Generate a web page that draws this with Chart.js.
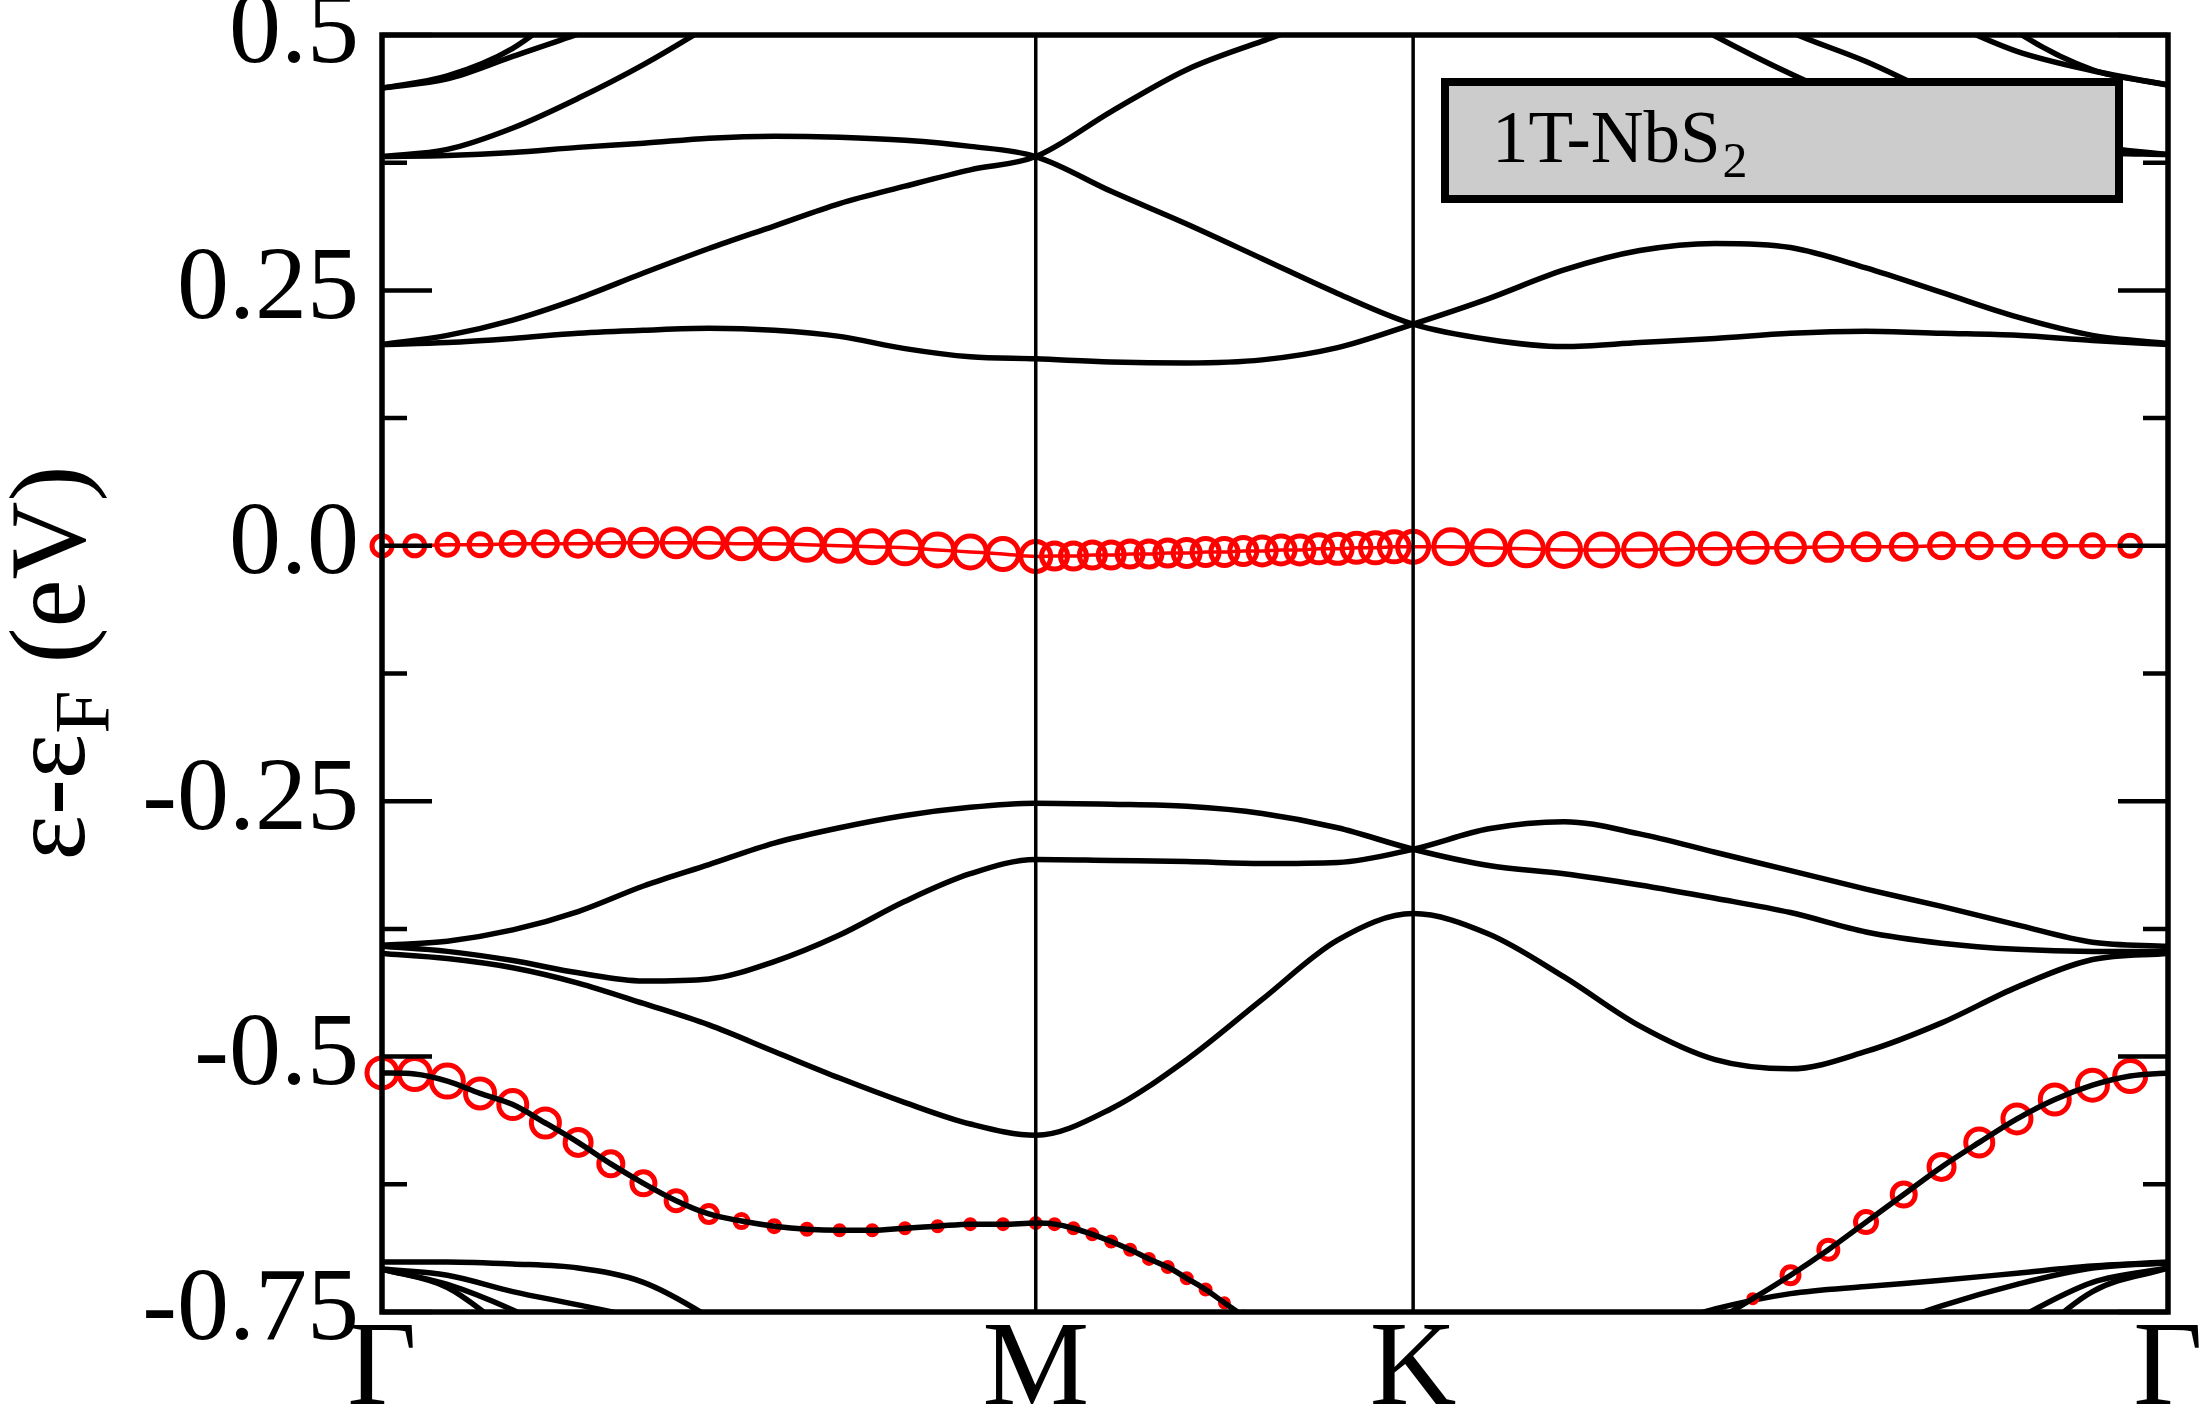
<!DOCTYPE html>
<html>
<head>
<meta charset="utf-8">
<title>1T-NbS2 band structure</title>
<script src="https://cdn.jsdelivr.net/npm/chart.js@4.4.1/dist/chart.umd.min.js"></script>
<style>
  body { margin: 0; background: #fff; }
  canvas { display: block; }
</style>
</head>
<body>
<canvas id="chart" width="2200" height="1408"></canvas>
<script>
// k-path Γ - M - K - Γ (high symmetry points and their labels)
const kNodes = [0, 0.5774, 0.9107, 1.5774];
const kLabels = ['Γ', 'M', 'K', 'Γ'];

// y axis tick labels (eV)
const yTickValues = [0.5, 0.25, 0, -0.25, -0.5, -0.75];
const yTickText = ['0.5', '0.25', '0.0', '-0.25', '-0.5', '-0.75'];

// coarse k grid used for the plain black bands
const kBand = [0, 0.0577, 0.1155, 0.1732, 0.2309, 0.2887, 0.3464, 0.4041, 0.4619, 0.5196, 0.5774,
    0.6440, 0.7107, 0.7774, 0.8440, 0.9107,
    0.9774, 1.0440, 1.1107, 1.1774, 1.2440, 1.3107, 1.3774, 1.4440, 1.5107, 1.5774];

// full k grid (20 steps per segment) used for the projected bands
const kFine = [0, 0.0289, 0.0577, 0.0866, 0.1155, 0.1443, 0.1732, 0.2021, 0.2309, 0.2598, 0.2887,
    0.3175, 0.3464, 0.3753, 0.4041, 0.4330, 0.4619, 0.4907, 0.5196, 0.5485, 0.5774,
    0.5940, 0.6107, 0.6274, 0.6440, 0.6607, 0.6774, 0.6940, 0.7107, 0.7274, 0.7440,
    0.7607, 0.7774, 0.7940, 0.8107, 0.8274, 0.8440, 0.8607, 0.8774, 0.8940, 0.9107,
    0.9440, 0.9774, 1.0107, 1.0440, 1.0774, 1.1107, 1.1440, 1.1774, 1.2107, 1.2440,
    1.2774, 1.3107, 1.3440, 1.3774, 1.4107, 1.4440, 1.4774, 1.5107, 1.5440, 1.5774];

// black bands on kBand (eV)
const bandA = [0.197, 0.199, 0.203, 0.208, 0.211, 0.213, 0.211, 0.205, 0.193, 0.185, 0.183,
    0.180, 0.179, 0.182, 0.194, 0.217,
    0.242, 0.270, 0.289, 0.296, 0.292, 0.272, 0.248, 0.224, 0.206, 0.198];
const bandB = [0.197, 0.206, 0.221, 0.242, 0.267, 0.291, 0.313, 0.335, 0.352, 0.368, 0.381,
    0.425, 0.466, 0.494, 0.520, 0.540,
    null, null, null, null, null, null, null, null, null, null];
const bandC = [0.381, 0.382, 0.385, 0.390, 0.394, 0.399, 0.401, 0.400, 0.397, 0.391, 0.381,
    0.347, 0.315, 0.281, 0.247, 0.217,
    0.202, 0.195, 0.199, 0.203, 0.208, 0.210, 0.208, 0.206, 0.201, 0.197];
const bandD1 = [0.381, 0.388, 0.409, 0.438, 0.471, 0.509, 0.550, null, null, null, null,
    null, null, null, null, null,
    null, null, null, null, null, null, null, null, null, null];
const bandD2 = [0.448, 0.460, 0.487, 0.535, null, null, null, null, null, null, null,
    null, null, null, null, null,
    null, null, null, null, null, null, null, null, null, null];
const bandD3 = [0.448, 0.457, 0.479, 0.501, 0.525, null, null, null, null, null, null,
    null, null, null, null, null,
    null, null, null, null, null, null, null, null, null, null];
const bandT1 = [null, null, null, null, null, null, null, null, null, null, null,
    null, null, null, null, null,
    null, null, 0.540, 0.499, 0.462, 0.430, 0.405, 0.392, 0.385, 0.383];
const bandT2 = [null, null, null, null, null, null, null, null, null, null, null,
    null, null, null, null, null,
    null, null, null, 0.540, 0.503, 0.474, 0.440, 0.412, 0.392, 0.383];
const bandT3 = [null, null, null, null, null, null, null, null, null, null, null,
    null, null, null, null, null,
    null, null, null, null, null, null, 0.515, 0.484, 0.465, 0.451];
const bandT4 = [null, null, null, null, null, null, null, null, null, null, null,
    null, null, null, null, null,
    null, null, null, null, null, null, 0.560, 0.503, 0.466, 0.451];
const bandE = [-0.391, -0.387, -0.376, -0.358, -0.333, -0.312, -0.291, -0.276, -0.264, -0.256, -0.252,
    -0.253, -0.255, -0.262, -0.276, -0.297,
    -0.313, -0.321, -0.332, -0.345, -0.359, -0.378, -0.389, -0.395, -0.397, -0.397];
const bandF = [-0.392, -0.397, -0.406, -0.418, -0.426, -0.424, -0.407, -0.381, -0.348, -0.321, -0.307,
    -0.308, -0.309, -0.311, -0.310, -0.297,
    -0.277, -0.270, -0.282, -0.300, -0.318, -0.336, -0.353, -0.371, -0.388, -0.392];
const bandG = [-0.399, -0.404, -0.413, -0.428, -0.448, -0.469, -0.495, -0.521, -0.545, -0.566, -0.577,
    -0.551, -0.503, -0.444, -0.386, -0.360,
    -0.380, -0.422, -0.470, -0.503, -0.512, -0.495, -0.467, -0.432, -0.405, -0.399];
const bandL1 = [-0.701, -0.701, -0.703, -0.707, -0.721, -0.755, -0.800, null, null, null, null,
    null, null, null, null, null,
    null, null, null, null, null, null, null, null, null, null];
const bandL2 = [-0.708, -0.714, -0.730, -0.743, -0.757, -0.775, null, null, null, null, null,
    null, null, null, null, null,
    null, null, null, null, null, null, null, null, null, null];
const bandL3 = [-0.708, -0.723, -0.748, -0.780, null, null, null, null, null, null, null,
    null, null, null, null, null,
    null, null, null, null, null, null, null, null, null, null];
const bandL4 = [-0.708, -0.726, -0.772, null, null, null, null, null, null, null, null,
    null, null, null, null, null,
    null, null, null, null, null, null, null, null, null, null];
const bandR1 = [null, null, null, null, null, null, null, null, null, null, null,
    null, null, null, null, null,
    null, null, -0.770, -0.747, -0.732, -0.725, -0.719, -0.712, -0.705, -0.701];
const bandR2 = [null, null, null, null, null, null, null, null, null, null, null,
    null, null, null, null, null,
    null, null, null, null, null, -0.770, -0.744, -0.723, -0.707, -0.702];
const bandR3 = [null, null, null, null, null, null, null, null, null, null, null,
    null, null, null, null, null,
    null, null, null, null, null, null, -0.800, -0.757, -0.721, -0.707];
const bandR4 = [null, null, null, null, null, null, null, null, null, null, null,
    null, null, null, null, null,
    null, null, null, null, null, null, null, -0.790, -0.730, -0.707];

// band crossing the Fermi level (red) on kFine, with projection circle radii
const fermiBand = [0.000, 0.000, 0.001, 0.001, 0.002, 0.002, 0.002, 0.003, 0.003, 0.003, 0.003,
    0.002, 0.002, 0.001, 0.000, -0.001, -0.002, -0.004, -0.006, -0.008, -0.0105,
    -0.010, -0.010, -0.009, -0.009, -0.008, -0.008, -0.007, -0.007, -0.006, -0.006,
    -0.005, -0.005, -0.004, -0.004, -0.003, -0.003, -0.002, -0.002, -0.001, -0.001,
    -0.001, -0.002, -0.003, -0.004, -0.004, -0.004, -0.003, -0.003, -0.002, -0.002,
    -0.001, -0.001, -0.001, 0.000, 0.000, 0.000, 0.000, 0.000, 0.000, 0.000];
const fermiWeight = [10, 10, 10.5, 11, 11.5, 12, 12.5, 13, 13.5, 14, 14.5,
    15, 15, 15.5, 15.5, 16, 16, 16, 16, 15.5, 15,
    13, 13, 13, 13, 13, 13, 13, 13.5, 13.5, 13.5,
    13.5, 14, 14, 14, 14, 14.5, 14.5, 15, 15, 15.5,
    17, 17, 17, 16.5, 16, 16, 15.5, 15, 14.5, 14,
    13.5, 13, 12.5, 12, 12, 11.5, 11, 11, 10.5, 0];

// lower band with red projection circles on kFine
const bandH = [-0.516, -0.517, -0.524, -0.536, -0.547, -0.565, -0.584, -0.605, -0.624, -0.641, -0.654,
    -0.661, -0.666, -0.669, -0.670, -0.670, -0.668, -0.666, -0.664, -0.664, -0.663,
    -0.664, -0.668, -0.674, -0.681, -0.689, -0.698, -0.706, -0.717, -0.728, -0.741,
    -0.754, -0.768, -0.782, -0.796, -0.810, -0.823, -0.835, -0.845, -0.852, -0.855,
    -0.855, -0.852, -0.845, -0.835, -0.820, -0.800, -0.780, -0.759, -0.737, -0.714,
    -0.689, -0.662, -0.635, -0.608, -0.584, -0.561, -0.542, -0.528, -0.519, -0.516];
const bandHWeight = [15, 15.5, 16, 14.5, 14, 14, 13, 12, 11.5, 10, 8.5,
    6.5, 5.5, 5, 4.5, 4.5, 4.5, 4.5, 4.5, 4.5, 4.5,
    4.5, 4.5, 4.5, 4.5, 4.5, 4.5, 4.5, 4.5, 4.5, 4,
    4, 4, 4, 4, 4, 4, 4, 4, 4, 4,
    4, 4, 4, 4, 4, 4, 4, 4, 4, 8.5,
    9.5, 10.5, 11.5, 12.5, 13.5, 14, 14.5, 15, 15.5, 0];

let chart;

function points(ks, ys) {
    return ks.map((k, i) => ({ x: k, y: ys[i] }));
}

function blackBand(ys) {
    return {
        data: points(kBand, ys),
        borderColor: '#000',
        borderWidth: 5.5,
        pointRadius: 0,
        cubicInterpolationMode: 'monotone',
        spanGaps: false
    };
}

const framePlugin = {
    id: 'frame',
    afterDatasetsDraw(c) {
        const ctx = c.ctx;
        const a = c.chartArea;
        const x = c.scales.x;
        const y = c.scales.y;
        ctx.save();
        ctx.strokeStyle = '#000';
        // vertical lines at M and K
        ctx.lineWidth = 3.5;
        kNodes.slice(1, -1).forEach(k => {
            const px = x.getPixelForValue(k);
            ctx.beginPath();
            ctx.moveTo(px, a.top);
            ctx.lineTo(px, a.bottom);
            ctx.stroke();
        });
        // inward ticks on both sides
        ctx.lineWidth = 4.5;
        y.ticks.forEach(t => {
            const py = y.getPixelForValue(t.value);
            const len = t.label !== '' ? 50 : 25;
            ctx.beginPath();
            ctx.moveTo(a.left, py);
            ctx.lineTo(a.left + len, py);
            ctx.moveTo(a.right - len, py);
            ctx.lineTo(a.right, py);
            ctx.stroke();
        });
        ctx.lineWidth = 5.5;
        ctx.strokeRect(a.left, a.top, a.right - a.left, a.bottom - a.top);
        ctx.restore();
    },
    afterDraw(c) {
        const ctx = c.ctx;
        ctx.save();
        // label box
        ctx.fillStyle = '#cccccc';
        ctx.fillRect(1445, 82, 674, 117);
        ctx.lineWidth = 8;
        ctx.strokeStyle = '#000';
        ctx.strokeRect(1445, 82, 674, 117);
        ctx.fillStyle = '#000';
        ctx.textBaseline = 'alphabetic';
        ctx.textAlign = 'left';
        ctx.font = "73px 'Liberation Serif'";
        ctx.fillText('1T-NbS', 1492, 162);
        const w = ctx.measureText('1T-NbS').width;
        ctx.font = "50px 'Liberation Serif'";
        ctx.fillText('2', 1492 + w + 2, 177);

        // y axis title with subscript
        ctx.translate(84, 663);
        ctx.rotate(-Math.PI / 2);
        ctx.font = "108px 'Liberation Serif'";
        const w1 = ctx.measureText('ε-ε').width;
        const w3 = ctx.measureText(' (eV)').width;
        ctx.font = "78px 'Liberation Serif'";
        const w2 = ctx.measureText('F').width;
        let sx = -(w1 + w2 + w3) / 2;
        ctx.font = "108px 'Liberation Serif'";
        ctx.fillText('ε-ε', sx, 0);
        sx += w1;
        ctx.font = "78px 'Liberation Serif'";
        ctx.fillText('F', sx, 24);
        sx += w2;
        ctx.font = "108px 'Liberation Serif'";
        ctx.fillText(' (eV)', sx, 0);
        ctx.restore();
    }
};

function chartInit() {
    Chart.defaults.font.family = "'Liberation Serif', 'Times New Roman', serif";
    Chart.defaults.color = '#000';
    const ctx = document.getElementById('chart').getContext('2d');
    const blackBands = [bandA, bandB, bandC, bandD1, bandD2, bandD3, bandT1, bandT2, bandT3, bandT4,
        bandE, bandF, bandG, bandL1, bandL2, bandL3, bandL4, bandR1, bandR2, bandR3, bandR4];
    const datasets = [
        {
            data: points(kFine, bandH),
            borderColor: '#000',
            borderWidth: 5.5,
            pointRadius: 0,
            cubicInterpolationMode: 'monotone'
        },
        {
            data: points(kFine, bandH),
            showLine: false,
            pointRadius: bandHWeight,
            pointBorderColor: '#ff0000',
            pointBackgroundColor: 'rgba(0,0,0,0)',
            pointBorderWidth: 5,
            clip: { left: 30, right: 30, top: 0, bottom: 0 }
        },
        {
            data: points(kFine, fermiBand),
            borderColor: '#ff0000',
            borderWidth: 3.5,
            pointRadius: fermiWeight,
            pointBorderColor: '#ff0000',
            pointBackgroundColor: 'rgba(0,0,0,0)',
            pointBorderWidth: 5,
            cubicInterpolationMode: 'monotone',
            clip: { left: 30, right: 30, top: 0, bottom: 0 }
        }
    ].concat(blackBands.map(blackBand));

    chart = new Chart(ctx, {
        type: 'line',
        data: { datasets: datasets },
        options: {
            responsive: false,
            animation: false,
            devicePixelRatio: 1,
            layout: { padding: { left: 0, top: 35, right: 32, bottom: 0 } },
            plugins: { legend: { display: false }, tooltip: { enabled: false } },
            scales: {
                x: {
                    type: 'linear',
                    min: 0,
                    max: 1.5774,
                    grid: { display: false, drawTicks: false },
                    border: { display: false },
                    afterBuildTicks: (s) => { s.ticks = kNodes.map(v => ({ value: v })); },
                    afterFit: (s) => { s.height = 96; s.paddingLeft = 0; s.paddingRight = 0; },
                    ticks: {
                        autoSkip: false,
                        maxRotation: 0,
                        padding: -12,
                        font: { size: 120 },
                        callback: (v, i) => kLabels[i]
                    }
                },
                y: {
                    type: 'linear',
                    min: -0.75,
                    max: 0.5,
                    grid: { display: false, drawTicks: false },
                    border: { display: false },
                    afterFit: (s) => { s.width = 382; s.paddingTop = 0; s.paddingBottom = 0; },
                    ticks: {
                        stepSize: 0.125,
                        autoSkip: false,
                        padding: 23,
                        font: { size: 104 },
                        callback: (v) => {
                            const i = yTickValues.findIndex(t => Math.abs(t - v) < 1e-6);
                            return i >= 0 ? yTickText[i] : '';
                        }
                    }
                }
            }
        },
        plugins: [framePlugin]
    });
}

chartInit();
</script>
</body>
</html>
